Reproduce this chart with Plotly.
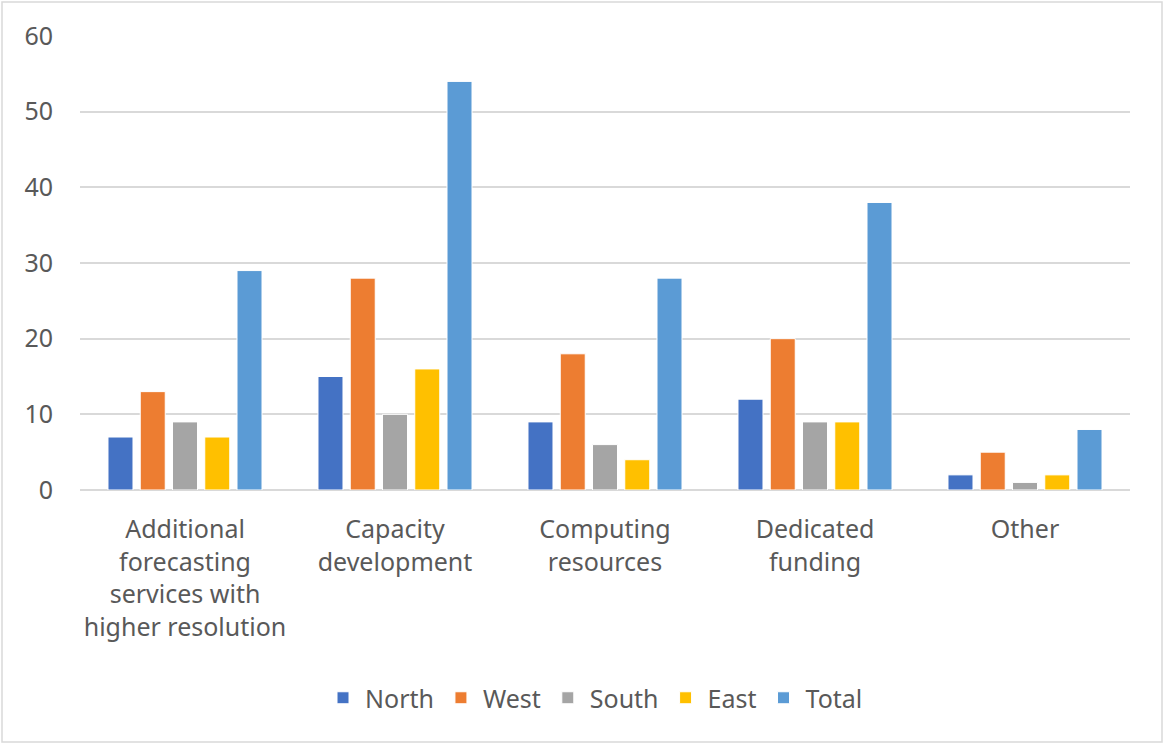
import plotly.graph_objects as go

categories = [
    "Additional<br>forecasting<br>services with<br>higher resolution",
    "Capacity<br>development",
    "Computing<br>resources",
    "Dedicated<br>funding",
    "Other",
]
series_names = ["North", "West", "South", "East", "Total"]
north = [7, 15, 9, 12, 2]
west = [13, 28, 18, 20, 5]
south = [9, 10, 6, 9, 1]
east = [7, 16, 4, 9, 2]
total = [29, 54, 28, 38, 8]
colors = ["#4472C4", "#ED7D31", "#A5A5A5", "#FFC000", "#5B9BD5"]

values = [north, west, south, east, total]

fig = go.Figure()
for name, vals, col in zip(series_names, values, colors):
    fig.add_trace(go.Bar(
        x=categories, y=vals, name=name,
        marker=dict(color=col, line=dict(color="white", width=1)),
    ))

W, H = 1165, 745
ml, mr, mt, mb = 80, 35, 36, 255
pw = W - ml - mr
ph = H - mt - mb
FS = 25

fig.update_layout(
    width=W, height=H,
    margin=dict(l=ml, r=mr, t=mt, b=mb),
    paper_bgcolor="white", plot_bgcolor="white",
    font=dict(family="Noto Sans, Open Sans, sans-serif", size=FS, color="#595959"),
    barmode="group",
    bargap=0.232,
    bargroupgap=0.225,
    legend=dict(
        orientation="h", x=0.49, xanchor="center",
        y=((H - mb) - 698) / ph, yanchor="middle",
        font=dict(size=FS, color="#595959"),
        itemwidth=34, traceorder="normal",
    ),
    xaxis=dict(
        showgrid=False, showline=False, ticks="",
        tickfont=dict(size=FS, color="#595959"),
        tickangle=0,
        ticklabelstandoff=22,
    ),
    yaxis=dict(
        range=[0, 60], dtick=10, tick0=0,
        showgrid=True, gridcolor="#D9D9D9", gridwidth=1.5,
        zeroline=True, zerolinecolor="#D9D9D9", zerolinewidth=1.5,
        showline=False, ticks="",
        tickfont=dict(size=FS, color="#595959"),
        ticklabelstandoff=26,
    ),
    shapes=[dict(
        type="rect", xref="paper", yref="paper",
        x0=(2 - ml) / pw, x1=(1162 - ml) / pw,
        y0=-(742 - (H - mb)) / ph, y1=1 + (mt - 2) / ph,
        line=dict(color="#D9D9D9", width=1.5),
        fillcolor="rgba(0,0,0,0)", layer="below",
    )],
)

fig.write_html(
    "out.html",
    config={"displayModeBar": False},
    post_script="document.body.style.margin='0';document.body.style.overflow='hidden';",
)
